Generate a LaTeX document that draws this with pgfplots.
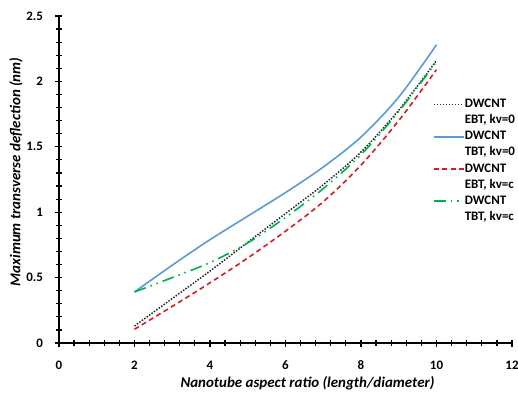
\documentclass[border=0pt]{standalone}
\usepackage{fontspec}
\setmainfont{Carlito}
\usepackage{pgfplots}
\pgfplotsset{compat=1.18}
\pgfplotsset{legend image code/.code={\draw[#1] (0bp,0bp) -- (30bp,0bp);}}
\definecolor{cblue}{RGB}{91,155,213}
\definecolor{cred}{RGB}{210,30,35}
\definecolor{cgreen}{RGB}{0,176,80}
\definecolor{cblack}{RGB}{40,40,40}
\begin{document}
\fontsize{13}{15}\selectfont
\begin{tikzpicture}
\begin{axis}[
  scale only axis, width=453bp, height=327bp,
  xmin=0, xmax=12, ymin=0, ymax=2.5,
  axis x line=bottom, axis y line=left,
  axis line style={-, line width=1.2bp, black},
  xtick={0,2,...,12}, ytick={0,0.5,...,2.5},
  minor x tick num=4, minor y tick num=4,
  tick align=center, major tick length=7bp, minor tick length=6bp,
  every tick/.style={black, line width=1.2bp},
  /pgf/number format/assume math mode=true,
  ticklabel style={font=\fontsize{13}{15}\selectfont\bfseries, text=black},
  xticklabel style={yshift=-10bp},
  yticklabel style={xshift=-8bp},
  xlabel={\bfseries\itshape Nanotube aspect ratio (length/diameter)},
  ylabel={\bfseries\itshape Maximum transverse deflection (nm)},
  label style={font=\fontsize{15}{17}\selectfont},
  xlabel style={at={(axis description cs:0.5486,0)}, anchor=center, yshift=-40bp},
  ylabel style={at={(axis description cs:0,0.523)}, anchor=center, yshift=43bp},
  legend cell align=left,
  legend style={draw=none, fill=none, at={(axis description cs:0.8256,0.748)}, anchor=north west,
    font=\fontsize{13}{15}\selectfont\bfseries,
    nodes={inner sep=0pt, text height=9bp, text depth=3bp},
    row sep=4.1bp, inner sep=0pt,
    /tikz/every even column/.append style={column sep=3bp}},
]
\addplot[cblack, line width=1.5bp, dash pattern=on 1.5bp off 1.5bp, smooth] coordinates {
(2,0.13) (3,0.34) (4,0.55) (5,0.77) (6,0.99) (7,1.21) (8,1.46) (9,1.78) (10,2.16)};
\addlegendentry{DWCNT}
\addlegendimage{empty legend}\addlegendentry{EBT, kv=0}
\addplot[cblue, line width=1.6bp, smooth] coordinates {
(2,0.39) (3,0.595) (4,0.79) (5,0.97) (6,1.15) (7,1.345) (8,1.575) (9,1.88) (10,2.28)};
\addlegendentry{DWCNT}
\addlegendimage{empty legend}\addlegendentry{TBT, kv=0}
\addplot[cred, line width=1.6bp, dash pattern=on 5bp off 3.5bp, smooth] coordinates {
(2,0.105) (3,0.28) (4,0.46) (5,0.65) (6,0.855) (7,1.08) (8,1.36) (9,1.70) (10,2.09)};
\addlegendentry{DWCNT}
\addlegendimage{empty legend}\addlegendentry{EBT, kv=c}
\addplot[cgreen, line width=1.6bp, dash pattern=on 12bp off 5bp on 1.5bp off 5bp on 1.5bp off 5bp, smooth] coordinates {
(2,0.39) (3,0.50) (4,0.615) (5,0.765) (6,0.96) (7,1.18) (8,1.44) (9,1.77) (10,2.15)};
\addlegendentry{DWCNT}
\addlegendimage{empty legend}\addlegendentry{TBT, kv=c}
\coordinate (bl) at (rel axis cs:-0.13024,-0.15596);
\coordinate (tr) at (rel axis cs:1.01325,1.04893);
\end{axis}
\pgfresetboundingbox
\path[use as bounding box] (bl) rectangle (tr);
\end{tikzpicture}
\end{document}
